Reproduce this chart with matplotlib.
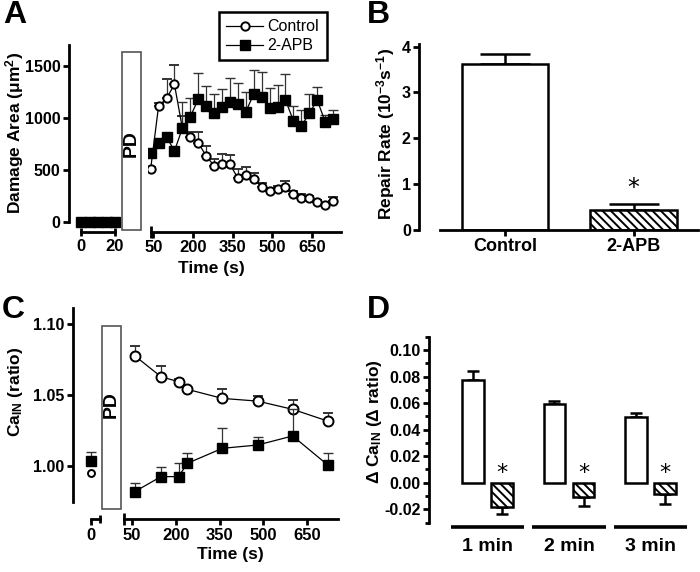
import matplotlib
matplotlib.use('Agg')
import matplotlib.pyplot as plt
from matplotlib.patches import Rectangle
from matplotlib.lines import Line2D
from matplotlib.ticker import FormatStrFormatter, MultipleLocator
import numpy as np

plt.rcParams['font.family'] = ['Liberation Sans', 'DejaVu Sans']
plt.rcParams['font.weight'] = 'bold'
plt.rcParams['mathtext.default'] = 'regular'
plt.rcParams['hatch.linewidth'] = 1.4

# ---------------- data ----------------
# Panel A: damage area (um^2)
pre_time_A = [0, 5, 10, 15, 20]
pre_ctrl_A = [0, 0, 0, 0, 0]
pre_apb_A = [0, 0, 0, 0, 0]
time_A = [40, 70, 100, 130, 160, 190, 220, 250, 280, 310, 340, 370,
          400, 430, 460, 490, 520, 550, 580, 610, 640, 670, 700, 730]
ctrl_A = [507, 1112, 1186, 1321, 900, 817, 760, 632, 538, 558, 552, 417,
          446, 408, 337, 298, 317, 337, 266, 231, 225, 192, 160, 202]
ctrl_A_err = [20, 30, 190, 190, 120, 50, 105, 100, 60, 95, 90, 85,
              78, 63, 30, 30, 30, 54, 30, 30, 25, 20, 20, 35]
apb_A = [657, 760, 817, 680, 898, 1010, 1177, 1112, 1042, 1106, 1154, 1129,
         1058, 1228, 1196, 1090, 1100, 1170, 971, 920, 1042, 1170, 962, 988]
apb_A_err = [30, 30, 40, 30, 250, 180, 250, 195, 190, 170, 230, 210,
             190, 230, 240, 200, 215, 250, 145, 155, 185, 130, 65, 85]

# Panel B: repair rate
groups_B = ['Control', '2-APB']
rate_B = [3.62, 0.43]
rate_B_err = [0.22, 0.14]

# Panel C: Ca_IN ratio
pre_time_C = [0]
pre_ctrl_C = [0.9953]
pre_apb_C = [1.0037]
pre_apb_C_err = [0.0064]
time_C = [60, 150, 210, 240, 360, 480, 600, 720]
ctrl_C = [1.0778, 1.0630, 1.0595, 1.0541, 1.0477, 1.0458, 1.0400, 1.0317]
ctrl_C_err = [0.0070, 0.0076, 0.0020, 0.0020, 0.0064, 0.0036, 0.0065, 0.0055]
apb_C = [0.9819, 0.9925, 0.9925, 1.0019, 1.0125, 1.0148, 1.0212, 1.0007]
apb_C_err = [0.0060, 0.0070, 0.0094, 0.0071, 0.0145, 0.0059, 0.0190, 0.0087]

# Panel D: delta Ca_IN
groups_D = ['1 min', '2 min', '3 min']
ctrl_D = [0.0774, 0.0593, 0.0497]
ctrl_D_err = [0.0070, 0.0023, 0.0026]
apb_D = [-0.0181, -0.0105, -0.0085]
apb_D_err = [0.0057, 0.0071, 0.0078]

# ---------------- layout helpers ----------------
W, H = 700, 572
fig = plt.figure(figsize=(7, 5.72), dpi=100)


def px_box(l, t, r, b):
    return [l / W, 1 - b / H, (r - l) / W, (b - t) / H]


SP = 2.0


def style(ax):
    for s in ['top', 'right']:
        ax.spines[s].set_visible(False)
    for s in ['left', 'bottom']:
        ax.spines[s].set_linewidth(SP)
    ax.tick_params(which='both', width=SP, length=4, direction='out', pad=2)
    ax.tick_params(axis='x', labelsize=12)
    ax.tick_params(axis='y', labelsize=11.5)
    ax.patch.set_alpha(0)


def pd_box(l, t, r, b, ty):
    fig.add_artist(Rectangle((l / W, 1 - b / H), (r - l) / W, (b - t) / H,
                             transform=fig.transFigure, fc='white',
                             ec='#555555', lw=1.2))
    fig.text((l + r) / 2 / W, 1 - ty / H, 'PD', rotation=90, ha='center',
             va='center', fontsize=14, fontweight='bold')


ctrl_style = dict(color='black', mfc='white', mec='black', mew=1.4, lw=0.9,
                  ecolor='#333333', elinewidth=0.9, capthick=0.9)
apb_style = dict(color='black', mfc='black', mec='black', mew=1.0, lw=0.9,
                 ecolor='#333333', elinewidth=0.9, capthick=0.9)

# ---------------- Panel A ----------------
axAL = fig.add_axes(px_box(69, 45, 121, 232))
style(axAL)
axAL.set_xlim(-7.06, 23.5)
axAL.set_ylim(-100, 1700)
axAL.spines['left'].set_bounds(0, 1700)
axAL.spines['bottom'].set_bounds(0, 20)
axAL.set_xticks([0, 20])
axAL.set_yticks([0, 500, 1000, 1500])
axAL.tick_params(axis='x', direction='inout', length=6)
axAL.plot(pre_time_A, pre_ctrl_A, 'o', ms=6, mfc='white', mec='black', mew=1.4)
axAL.plot(pre_time_A, pre_apb_A, 's', ms=6.5, mfc='black', mec='black')

axAR = fig.add_axes(px_box(148, 45, 341, 232))
style(axAR)
axAR.spines['left'].set_visible(False)
axAR.tick_params(axis='y', left=False, labelleft=False)
axAR.set_xlim(30, 760)
axAR.set_ylim(-100, 1700)
axAR.spines['bottom'].set_bounds(41, 760)
axAR.set_xticks([50, 200, 350, 500, 650])
axAR.set_xticks([41], minor=True)
axAR.tick_params(axis='x', which='minor', direction='inout', length=8)
nA = len(time_A)
axAR.errorbar(time_A, ctrl_A, yerr=[np.zeros(nA), ctrl_A_err], fmt='-o',
              ms=6, capsize=3.6, zorder=3, **ctrl_style)
axAR.errorbar(time_A, apb_A, yerr=[np.zeros(nA), apb_A_err], fmt='-s',
              ms=6.5, capsize=3.6, zorder=4, **apb_style)

pd_box(121.7, 51.7, 140.7, 230, 144)
fig.text(14.5 / W, 1 - 133 / H, 'Damage Area (μm$^2$)', rotation=90,
         ha='center', va='center', fontsize=12.5)
fig.text(211 / W, 1 - 269 / H, 'Time (s)', ha='center', va='center',
         fontsize=12.5)

handles = [Line2D([], [], color='black', lw=0.9, marker='o', ms=6,
                  mfc='white', mec='black', mew=1.4),
           Line2D([], [], color='black', lw=0.9, marker='s', ms=6.5,
                  mfc='black', mec='black')]
leg = fig.legend(handles, ['Control', '2-APB'], loc='upper left',
                 bbox_to_anchor=(219 / W, 1 - 12 / H), frameon=True,
                 fancybox=False, edgecolor='black', framealpha=1,
                 prop={'weight': 'normal', 'size': 11.5}, handlelength=2.3,
                 borderpad=0.45, labelspacing=0.25, handletextpad=0.3,
                 borderaxespad=0)
leg.get_frame().set_linewidth(1.8)

# ---------------- Panel B ----------------
axB = fig.add_axes(px_box(440, 44.3, 698, 230))
style(axB)
axB.spines['left'].set_position(('outward', 15))
axB.set_xlim(-0.505, 1.5)
axB.set_ylim(0, 4.05)
axB.spines['left'].set_bounds(0, 4.05)
xB = np.arange(len(groups_B))
bars = axB.bar(xB, rate_B, width=0.673, color='white', edgecolor='black',
               linewidth=1.8, zorder=2)
bars[1].set_hatch('\\\\\\\\')
axB.errorbar(xB, rate_B, yerr=[np.zeros(len(xB)), rate_B_err], fmt='none',
             ecolor='black', elinewidth=1.8, capsize=18, capthick=1.8,
             zorder=1)
axB.set_xticks(xB)
axB.set_xticklabels(groups_B, fontsize=13)
axB.set_yticks([0, 1, 2, 3, 4])
axB.text(xB[1], rate_B[1] + rate_B_err[1] + 0.08, '*', ha='center',
         va='bottom', fontsize=17, fontweight='normal',
         family='DejaVu Sans')
fig.text(385.5 / W, 1 - 134 / H, 'Repair Rate (10$^{-3}$s$^{-1}$)',
         rotation=90, ha='center', va='center', fontsize=12.5)

# ---------------- Panel C ----------------
off_C = (519.3 - 501.7) * 0.72
axCL = fig.add_axes(px_box(72.7, 308.3, 100.7, 501.7))
style(axCL)
axCL.set_xlim(-18, 10)
axCL.set_ylim(0.9748, 1.1113)
axCL.spines['bottom'].set_position(('outward', off_C))
axCL.spines['bottom'].set_bounds(0, 9.3)
axCL.set_xticks([0])
axCL.set_xticks([9.3], minor=True)
axCL.tick_params(axis='x', which='minor', direction='inout', length=6)
axCL.set_yticks([1.00, 1.05, 1.10])
axCL.yaxis.set_major_formatter(FormatStrFormatter('%.2f'))
axCL.plot(pre_time_C, pre_ctrl_C, 'o', ms=5, mfc='white', mec='black', mew=1.4)
axCL.errorbar(pre_time_C, pre_apb_C, yerr=[[0], pre_apb_C_err], fmt='s',
              ms=7, capsize=3.6, **apb_style)

axCR = fig.add_axes(px_box(122, 308.3, 338, 501.7))
style(axCR)
axCR.spines['left'].set_visible(False)
axCR.tick_params(axis='y', left=False, labelleft=False)
axCR.set_xlim(16.5, 755)
axCR.set_ylim(0.9748, 1.1113)
axCR.spines['bottom'].set_position(('outward', off_C))
axCR.spines['bottom'].set_bounds(24, 755)
axCR.set_xticks([50, 200, 350, 500, 650])
axCR.set_xticks([24], minor=True)
axCR.tick_params(axis='x', which='minor', direction='inout', length=8)
nC = len(time_C)
axCR.errorbar(time_C, ctrl_C, yerr=[np.zeros(nC), ctrl_C_err], fmt='-o',
              ms=7.2, capsize=3.6, zorder=3, **ctrl_style)
axCR.errorbar(time_C, apb_C, yerr=[np.zeros(nC), apb_C_err], fmt='-s',
              ms=7, capsize=3.6, zorder=4, **apb_style)

pd_box(102.3, 326, 120.7, 509.3, 405)
fig.text(15.5 / W, 1 - 392 / H, 'Ca$_{IN}$ (ratio)', rotation=90,
         ha='center', va='center', fontsize=12.5)
fig.text(230 / W, 1 - 555 / H, 'Time (s)', ha='center', va='center',
         fontsize=12.5)

# ---------------- Panel D ----------------
axD = fig.add_axes(px_box(429.3, 336.7, 690, 523.3))
style(axD)
axD.spines['bottom'].set_visible(False)
axD.tick_params(axis='x', bottom=False, labelbottom=False)
axD.set_xlim(-0.714, 2.485)
axD.set_ylim(-0.0306, 0.110)
axD.yaxis.set_major_locator(MultipleLocator(0.02))
axD.yaxis.set_minor_locator(MultipleLocator(0.01))
axD.yaxis.set_major_formatter(FormatStrFormatter('%.2f'))
axD.tick_params(axis='y', which='minor', length=3)
xD = np.arange(len(groups_D))
bw = 0.264
off = 0.18
nD = len(xD)
axD.bar(xD - off, ctrl_D, width=bw, color='white', edgecolor='black',
        linewidth=1.8, zorder=2)
axD.bar(xD + off, apb_D, width=bw, color='white', edgecolor='black',
        linewidth=1.8, hatch='\\\\\\\\', zorder=2)
axD.errorbar(xD - off, ctrl_D, yerr=[np.zeros(nD), ctrl_D_err], fmt='none',
             ecolor='black', elinewidth=1.8, capsize=4.3, capthick=1.8,
             zorder=1)
axD.errorbar(xD + off, apb_D, yerr=[apb_D_err, np.zeros(nD)], fmt='none',
             ecolor='black', elinewidth=1.8, capsize=4.3, capthick=1.8,
             zorder=1)
for i, g in enumerate(groups_D):
    axD.plot([xD[i] - 0.45, xD[i] + 0.45], [-0.0214, -0.0214],
             transform=axD.get_xaxis_transform(), color='black', lw=2.6,
             clip_on=False, solid_capstyle='butt')
    axD.text(xD[i], -0.1257, g, transform=axD.get_xaxis_transform(),
             ha='center', va='center', fontsize=14)
    axD.text(xD[i] + off, 0.0075, '*', ha='center', va='center',
             fontsize=16, fontweight='normal', family='DejaVu Sans')
fig.text(375 / W, 1 - 422 / H, 'Δ Ca$_{IN}$ (Δ ratio)', rotation=90,
         ha='center', va='center', fontsize=12.5)

# ---------------- panel letters ----------------
for lab, x, y in [('A', 3, 23), ('B', 367, 23), ('C', 2, 318), ('D', 367, 318)]:
    fig.text(x / W, 1 - y / H, lab, ha='left', va='baseline', fontsize=23,
             fontweight='bold')

fig.savefig('out.png', dpi=100)
